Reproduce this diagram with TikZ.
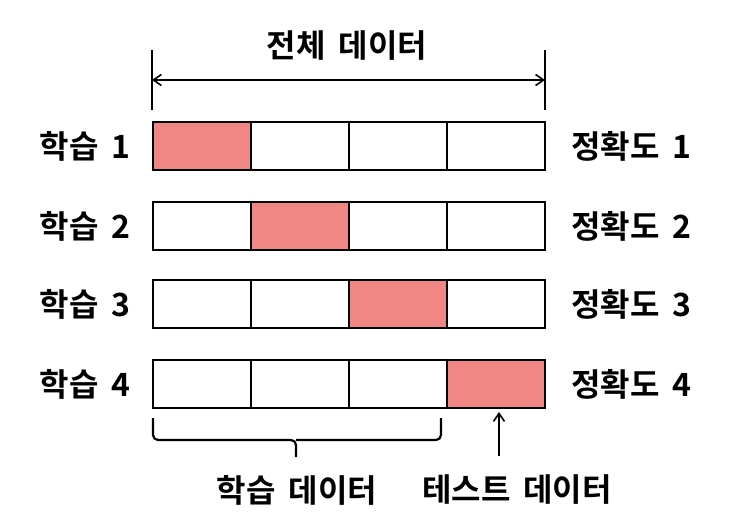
\documentclass[tikz,border=0pt]{standalone}
\usepackage{fontspec}
\setmainfont{Noto Sans CJK KR}[BoldFont={Noto Sans CJK KR Bold},WordSpace=1.8]
\usetikzlibrary{arrows.meta,calc}
\definecolor{testred}{RGB}{240,135,132}
\begin{document}
\begin{tikzpicture}[x=1pt,y=-1pt,
  cell/.style={draw=black,line width=2.6pt,minimum width=98pt,minimum height=48pt,inner sep=0pt,outer sep=0pt,fill=white},
  testcell/.style={cell,fill=testred},
  lbl/.style={font=\fontsize{32}{36}\selectfont\bfseries,inner sep=0pt},
  arr/.style={line width=2.2pt,-{Straight Barb[length=8pt,width=11pt,line width=1.6pt]}}]
\useasboundingbox (0,0) rectangle (732,532);
\foreach \r/\y in {1/146,2/226,3/304,4/384}{
  \foreach \c in {1,2,3,4}{
    \ifnum\r=\c
      \node[testcell] (c\r\c) at ({153+98*(\c-1)+49},\y) {};
    \else
      \node[cell] (c\r\c) at ({153+98*(\c-1)+49},\y) {};
    \fi
  }
  \node[lbl,anchor=east] (l\r) at (131,\y) {학습 \r};
  \node[lbl,anchor=west] (a\r) at (571,\y) {정확도 \r};
}
% top
\coordinate (tl) at (152,50);
\coordinate (tlb) at (152,110);
\coordinate (tr) at (545,50);
\coordinate (trb) at (545,110);
\draw[line width=2.6pt] (tl) -- (tlb);
\draw[line width=2.6pt] (tr) -- (trb);
\coordinate (al) at (152,80);
\coordinate (ar) at (545,80);
\draw[line width=2.2pt,{Straight Barb[length=8pt,width=11pt,line width=1.6pt]}-{Straight Barb[length=8pt,width=11pt,line width=1.6pt]}] (al) -- (ar);
\node[lbl] (title) at (347,46) {전체 데이터};
% brace
\draw[line width=2.2pt,rounded corners=5pt] (153,418) -- (153,440) -- (296,440) -- (296,457);
\draw[line width=2.2pt,rounded corners=5pt] (441,418) -- (441,440) -- (296,440);
\node[lbl] (train) at (297,490) {학습 데이터};
\node[lbl] (test) at (517,490) {테스트 데이터};
\coordinate (ab) at (499,456);
\draw[arr] (ab) -- ($(c44.south)+(3,4)$);
\end{tikzpicture}
\end{document}
